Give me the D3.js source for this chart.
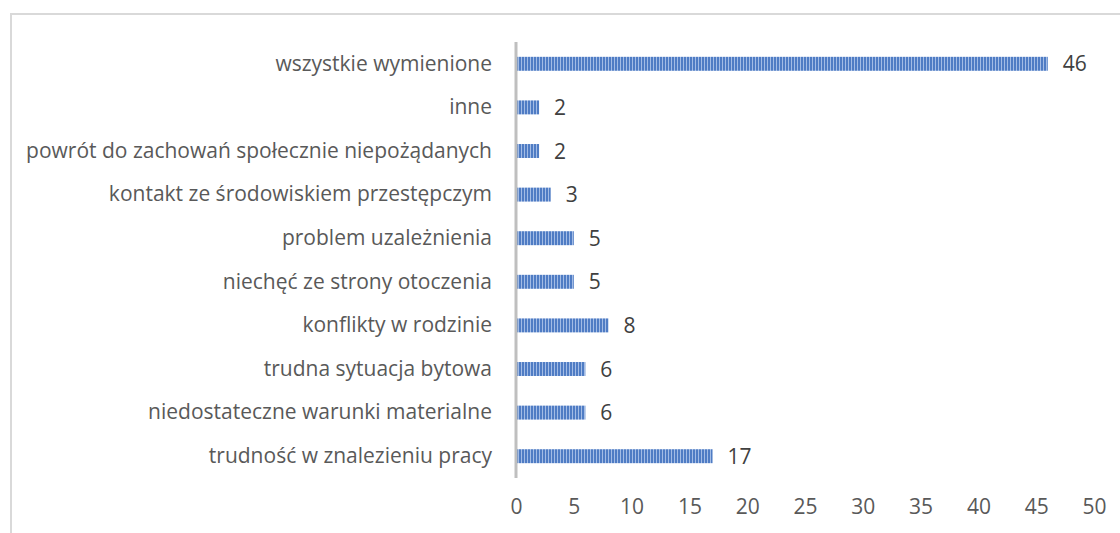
<!DOCTYPE html>
<html>
<head>
<meta charset="utf-8">
<script src="https://cdn.jsdelivr.net/npm/d3@7"></script>
<style>
  html, body { margin: 0; padding: 0; background: #fff; }
  svg { display: block; }
  text { font-family: "Open Sans", sans-serif; }
</style>
</head>
<body>
<script>
// Categories listed bottom to top as they appear on the y axis
const categories = [
  "trudność w znalezieniu pracy",
  "niedostateczne warunki materialne",
  "trudna sytuacja bytowa",
  "konflikty w rodzinie",
  "niechęć ze strony otoczenia",
  "problem uzależnienia",
  "kontakt ze środowiskiem przestępczym",
  "powrót do zachowań społecznie niepożądanych",
  "inne",
  "wszystkie wymienione"
];
const values = [17, 6, 6, 8, 5, 5, 3, 2, 2, 46];
const xTicks = [0, 5, 10, 15, 20, 25, 30, 35, 40, 45, 50];

const W = 1120, H = 533;
const margin = { left: 516, right: 26, top: 42, bottom: 55 };
const FONT = 21;
const TEXT = "#595959";

const svg = d3.select("body").append("svg")
  .attr("width", W).attr("height", H);

// striped bar fill
const defs = svg.append("defs");
const pat = defs.append("pattern")
  .attr("id", "stripes")
  .attr("patternUnits", "userSpaceOnUse")
  .attr("width", 3).attr("height", 10);
pat.append("rect").attr("width", 3).attr("height", 10).attr("fill", "#a3bce5");
pat.append("rect").attr("width", 2).attr("height", 10).attr("fill", "#4f7cc4");

// chart border
svg.append("rect")
  .attr("x", 11).attr("y", 14)
  .attr("width", W + 10).attr("height", H + 10)
  .attr("fill", "none").attr("stroke", "#d9d9d9").attr("stroke-width", 2);

const x = d3.scaleLinear().domain([0, 50]).range([margin.left, W - margin.right]);
const y = d3.scaleBand()
  .domain(categories.slice().reverse())
  .range([margin.top, H - margin.bottom])
  .paddingInner(0.68).paddingOuter(0.34);

// bars
svg.append("g").selectAll("rect")
  .data(categories)
  .join("rect")
  .attr("x", x(0))
  .attr("y", d => y(d))
  .attr("width", (d, i) => x(values[i]) - x(0))
  .attr("height", y.bandwidth())
  .attr("fill", "url(#stripes)");

// value labels
svg.append("g").selectAll("text")
  .data(categories)
  .join("text")
  .attr("x", (d, i) => x(values[i]) + 15)
  .attr("y", d => y(d) + y.bandwidth() / 2)
  .attr("dy", "0.36em")
  .attr("font-size", FONT)
  .attr("fill", "#404040")
  .text((d, i) => values[i]);

// category axis
const yAxis = svg.append("g")
  .attr("transform", `translate(${x(0)},0)`)
  .call(d3.axisLeft(y).tickSize(0).tickPadding(24));
yAxis.select(".domain")
  .attr("stroke", "#bfbfbf").attr("stroke-width", 3)
  .attr("d", `M0,${margin.top}V${H - margin.bottom}`);
yAxis.selectAll("text")
  .attr("font-size", FONT)
  .attr("fill", TEXT)
  .style("font-family", "'Open Sans', sans-serif");

// value axis (labels only)
const xAxis = svg.append("g")
  .attr("transform", `translate(0,${H - margin.bottom})`)
  .call(d3.axisBottom(x).tickValues(xTicks).tickSize(0).tickPadding(21));
xAxis.select(".domain").remove();
xAxis.selectAll("text")
  .attr("font-size", FONT)
  .attr("fill", TEXT)
  .style("font-family", "'Open Sans', sans-serif");
</script>
</body>
</html>
